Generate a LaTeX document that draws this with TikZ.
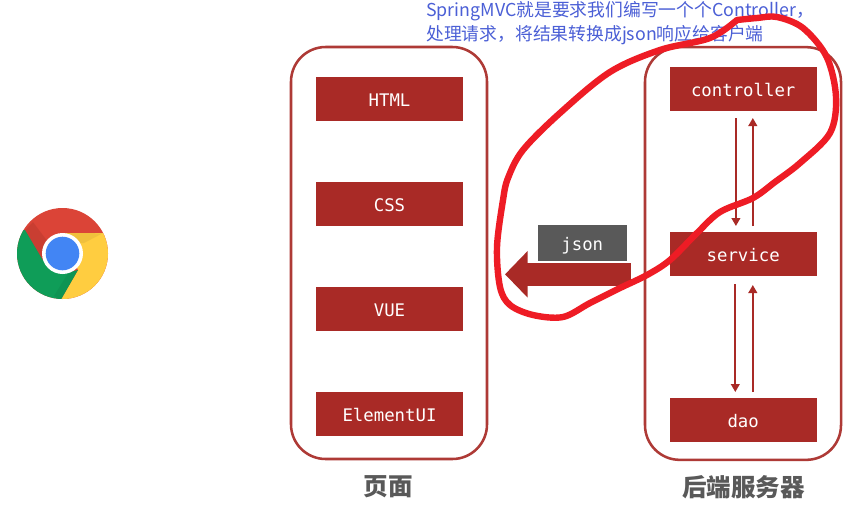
\documentclass[tikz,border=0pt]{standalone}
\usepackage{fontspec}
\setmonofont{DejaVu Sans Mono}
\newfontfamily\cjkfont{Noto Sans CJK SC}
\usetikzlibrary{arrows.meta}
\definecolor{brick}{HTML}{A92A26}
\definecolor{framec}{HTML}{AE3A36}
\definecolor{scribble}{HTML}{EE1C25}
\definecolor{notec}{HTML}{4B5FD6}
\definecolor{greyc}{HTML}{595959}
\definecolor{crred}{HTML}{DB4437}
\definecolor{cryel}{HTML}{FFCD40}
\definecolor{crgrn}{HTML}{0F9D58}
\definecolor{crblu}{HTML}{4285F4}
\tikzset{
  px/.style={x=0.75pt,y=-0.75pt},
  frameb/.style={draw=framec,line width=1.9pt,rounded corners=26pt,fill=none},
  layer/.style={fill=brick,text=white,minimum width=110.5pt,minimum height=33pt,inner sep=0pt,text height=10.5pt,text depth=0pt,font=\ttfamily\fontsize{13}{13}\selectfont},
  flow/.style={draw=brick,line width=1.4pt,-{Triangle[length=6pt,width=6.5pt]}},
  caption/.style={text=greyc,inner sep=0pt,font=\cjkfont\bfseries\fontsize{18.4}{18.4}\selectfont},
}
\begin{document}
\begin{tikzpicture}[px]
\useasboundingbox (0,0) rectangle (862,508);
\fill[white] (0,0) rectangle (862,508);

% browser icon
\begin{scope}
\clip (62.5,253.5) circle [radius=45.5*0.75pt];
\fill[crred] (0,190) rectangle (125,310);
\fill[cryel] (62.5,233) -- (125,233) -- (125,310) -- (61,310) -- (61,299.5) -- (78,270) -- cycle;
\fill[crgrn] (25,230) -- (42.7,260) -- (62,274) -- (78,270) -- (61,299.5) -- (61,310) -- (0,310) -- (0,230) -- cycle;
\fill[black,opacity=0.08] (25,230) -- (42.7,260) -- (48,242) -- (33,222) -- cycle;
\fill[black!60!brown,opacity=0.08] (62.5,233) -- (102.7,233.3) -- (84,243) -- (76,243) -- cycle;
\fill[black,opacity=0.05] (61,299.5) -- (78,270) -- (70,270) -- (54,296) -- cycle;
\end{scope}
\fill[white] (62.5,253.5) circle [radius=20.5*0.75pt];
\fill[crblu] (62.5,253.5) circle [radius=16.8*0.75pt];

% containers
\node[frameb,minimum width=147pt,minimum height=309pt,inner sep=0pt] (page) at (389,253) {};
\node[frameb,minimum width=147pt,minimum height=309.5pt,inner sep=0pt] (server) at (743,253.5) {};

% page layers
\node[layer] (html) at (389.5,99) {HTML};
\node[layer] (css) at (389.5,204) {CSS};
\node[layer] (vue) at (389.5,309) {VUE};
\node[layer] (element) at (389.5,414) {ElementUI};

% server layers
\node[layer] (controller) at (743.2,89) {controller};
\node[layer] (service) at (743.2,254) {service};
\node[layer] (dao) at (743.2,420) {dao};

% flows
\coordinate (c1) at (735.9,118);
\coordinate (c2) at (735.9,226);
\coordinate (c3) at (752.8,226);
\coordinate (c4) at (752.8,118);
\coordinate (s1) at (735.3,284);
\coordinate (s2) at (735.3,392);
\coordinate (s3) at (752.8,392);
\coordinate (s4) at (752.8,285);
\draw[flow] (c1) -- (c2);
\draw[flow] (c3) -- (c4);
\draw[flow] (s1) -- (s2);
\draw[flow] (s3) -- (s4);

% json
\node[fill=greyc,text=white,minimum width=66.5pt,minimum height=27.5pt,inner sep=0pt,text height=10.5pt,text depth=0pt,font=\ttfamily\fontsize{13}{13}\selectfont] (json) at (582.3,243) {json};
\coordinate (fatR) at (630.7,274.3);
\coordinate (fatL) at (505,274.3);
\draw[draw=brick,line width=17.5pt,-{Triangle[length=17pt,width=34pt]}] (fatR) -- (fatL);

% captions
\node[caption] (cap1) at (388.5,487) {页面};
\node[caption] (cap2) at (743.5,487) {后端服务器};

% note
\node[anchor=west,align=left,inner sep=0pt,text=notec,font=\cjkfont\fontsize{13.35}{18}\selectfont] (note) at (426,23) {SpringMVC就是要求我们编写一个个Controller，\\处理请求，将结果转换成json响应给客户端};

% hand-drawn circle
\draw[scribble,line width=4.8pt,line cap=round,line join=round] plot[smooth,tension=0.55] coordinates {
(737,20) (757,18) (777,17) (803,28) (826.7,57) (836,97) (830,133) (800,163) (775,182) (753,198) (720,212) (697,233) (670,260) (647,275) (620,288) (590,303) (563,317) (533,315) (510,305) (500,287) (497,247) (503,200) (508,178) (523,150) (560,113) (610,72) (660,50) (710,38) (737,20)};
\end{tikzpicture}
\end{document}
